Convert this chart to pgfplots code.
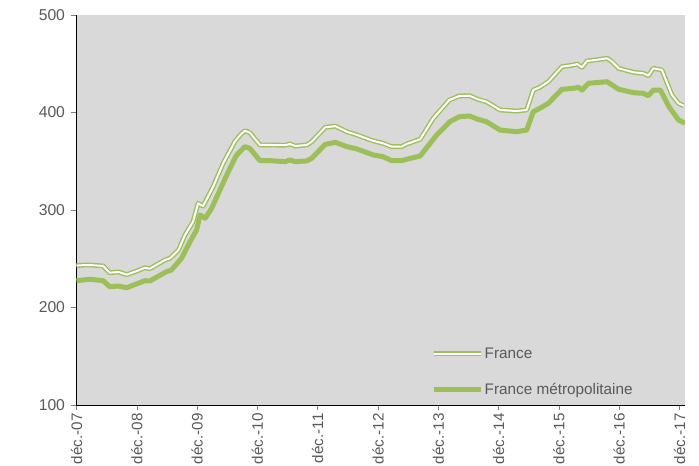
\documentclass[border=0pt]{standalone}
\usepackage{fontspec}
\setmainfont{Liberation Sans}
\usepackage{pgfplots}
\pgfplotsset{compat=1.18}
\definecolor{vert}{HTML}{9CBF59}
\definecolor{fond}{HTML}{D9D9D9}
\definecolor{txt}{HTML}{595959}
\begin{document}
\begin{tikzpicture}
\path[use as bounding box] (-76.5bp,-61bp) rectangle (622.5bp,405bp);
\begin{axis}[
  at={(0,0)}, anchor=south west,
  scale only axis, width=608.5bp, height=390bp,
  xmin=0, xmax=121.1, ymin=100, ymax=500,
  axis lines=left, axis line style={-, black, line width=0.8bp},
  axis background/.style={fill=fond},
  xtick={0,12,...,120},
  xticklabels={déc.-07,déc.-08,déc.-09,déc.-10,déc.-11,déc.-12,déc.-13,déc.-14,déc.-15,déc.-16,déc.-17},
  ytick={100,200,300,400,500},
  /pgf/number format/assume math mode=true,
  tick align=outside, major tick length=5bp,
  tick style={gray, line width=0.5bp},
  tick label style={font=\fontsize{15.7bp}{18bp}\selectfont, text=txt},
  y tick label style={xshift=-3bp},
  x tick label style={font=\fontsize{15.2bp}{18bp}\selectfont, rotate=90, anchor=east},
  legend style={at={(0.5826,0.02)}, anchor=south west, draw=none, fill=none,
    font=\fontsize{15.3bp}{18bp}\selectfont, text=txt, row sep=20bp,
    inner sep=0pt, nodes={inner sep=1.5bp}},
  legend cell align=left,
  legend image code/.code={\draw[#1] (0bp,0bp) -- (47bp,0bp);},
]
\addplot[vert, line width=1.4bp, double=white, double distance=2bp, line join=round] coordinates {
(0,243) (1.5,243.5) (2.7,243.6) (5.3,242.6) (6.6,235.7) (8.4,236.4) (10,233.7) (12,237.4) (13.6,240.8) (14.6,239.8)
(17.6,248.7) (18.6,250.4) (20.3,259) (21.6,274.4) (23.2,288) (24.2,306.8) (25.2,304) (27.2,324)
(29.2,348) (31.5,370) (32.6,377) (33.5,381.3) (34.5,379.3) (36.5,366.7) (38.5,366.7) (41.5,366.4) (42.5,367.7)
(43.5,365.6) (45.8,366.7) (46.8,370) (49.5,384.8) (51.5,386) (53.8,380.3) (55.8,377) (59,371) (61,368.4)
(62.7,365) (64.7,365) (65.7,367.7) (68.4,372.5) (71,394) (74.2,412.8) (76.2,417) (78.2,417.2) (79.9,413.5)
(81.6,411) (84.3,402.6) (87.6,401.5) (89.6,402.6) (90.9,423) (92.2,425.8) (93.9,431.6) (96.6,447) (98.9,448.7)
(99.6,449.7) (100.6,446.4) (101.6,452.8) (104.3,454.6) (105.6,455.6) (106.6,452) (107.9,445.3) (110.9,441.2)
(112.8,440.2) (113.8,437.8) (114.8,445.3) (116.5,443.6) (118.5,418) (119.8,409.4) (120.8,407)
};
\addlegendentry{France}
\addplot[vert, line width=5bp, line join=round] coordinates {
(0,227.5) (2.7,229) (5.3,227.5) (6.6,221.4) (8.3,222) (10,220.3) (13.6,227.5) (14.6,227.2) (17.9,236.7) (18.9,238.5)
(20.9,250.4) (22.6,267.5) (23.9,279.5) (24.6,294.9) (25.6,291.5) (26.9,301.7) (29.6,332.5)
(31.5,353) (31.9,356.4) (33.5,365) (34.5,363.2) (36.5,350.6) (38.5,350.6) (41.5,349.6) (42.5,351.3) (43.5,349.6)
(45.8,350.3) (46.8,353) (49.5,367.3) (51.5,369.4) (53.8,365) (55.8,362.6) (59.1,356.4) (61,354.7) (62.7,350.6)
(64.7,350.6) (65.7,352) (68.4,355.4) (71,372.5) (71.7,377) (74.3,390.6) (76.2,395.7) (78.2,396.4) (79.9,393)
(81.6,390.6) (84.3,382) (87.6,380.3) (89.6,382) (90.9,400.8) (92.2,404.3) (93.9,409.4) (96.6,423.8) (98.9,424.8)
(99.9,425.8) (100.6,423) (101.9,430) (104.3,431) (105.6,431.6) (106.6,428.2) (107.9,423.8) (110.9,420.3)
(112.8,419.7) (113.8,417.2) (114.8,423) (116.2,423) (117.9,406) (119.8,392.3) (121.1,389)
};
\addlegendentry{France métropolitaine}
\end{axis}
\end{tikzpicture}
\end{document}
